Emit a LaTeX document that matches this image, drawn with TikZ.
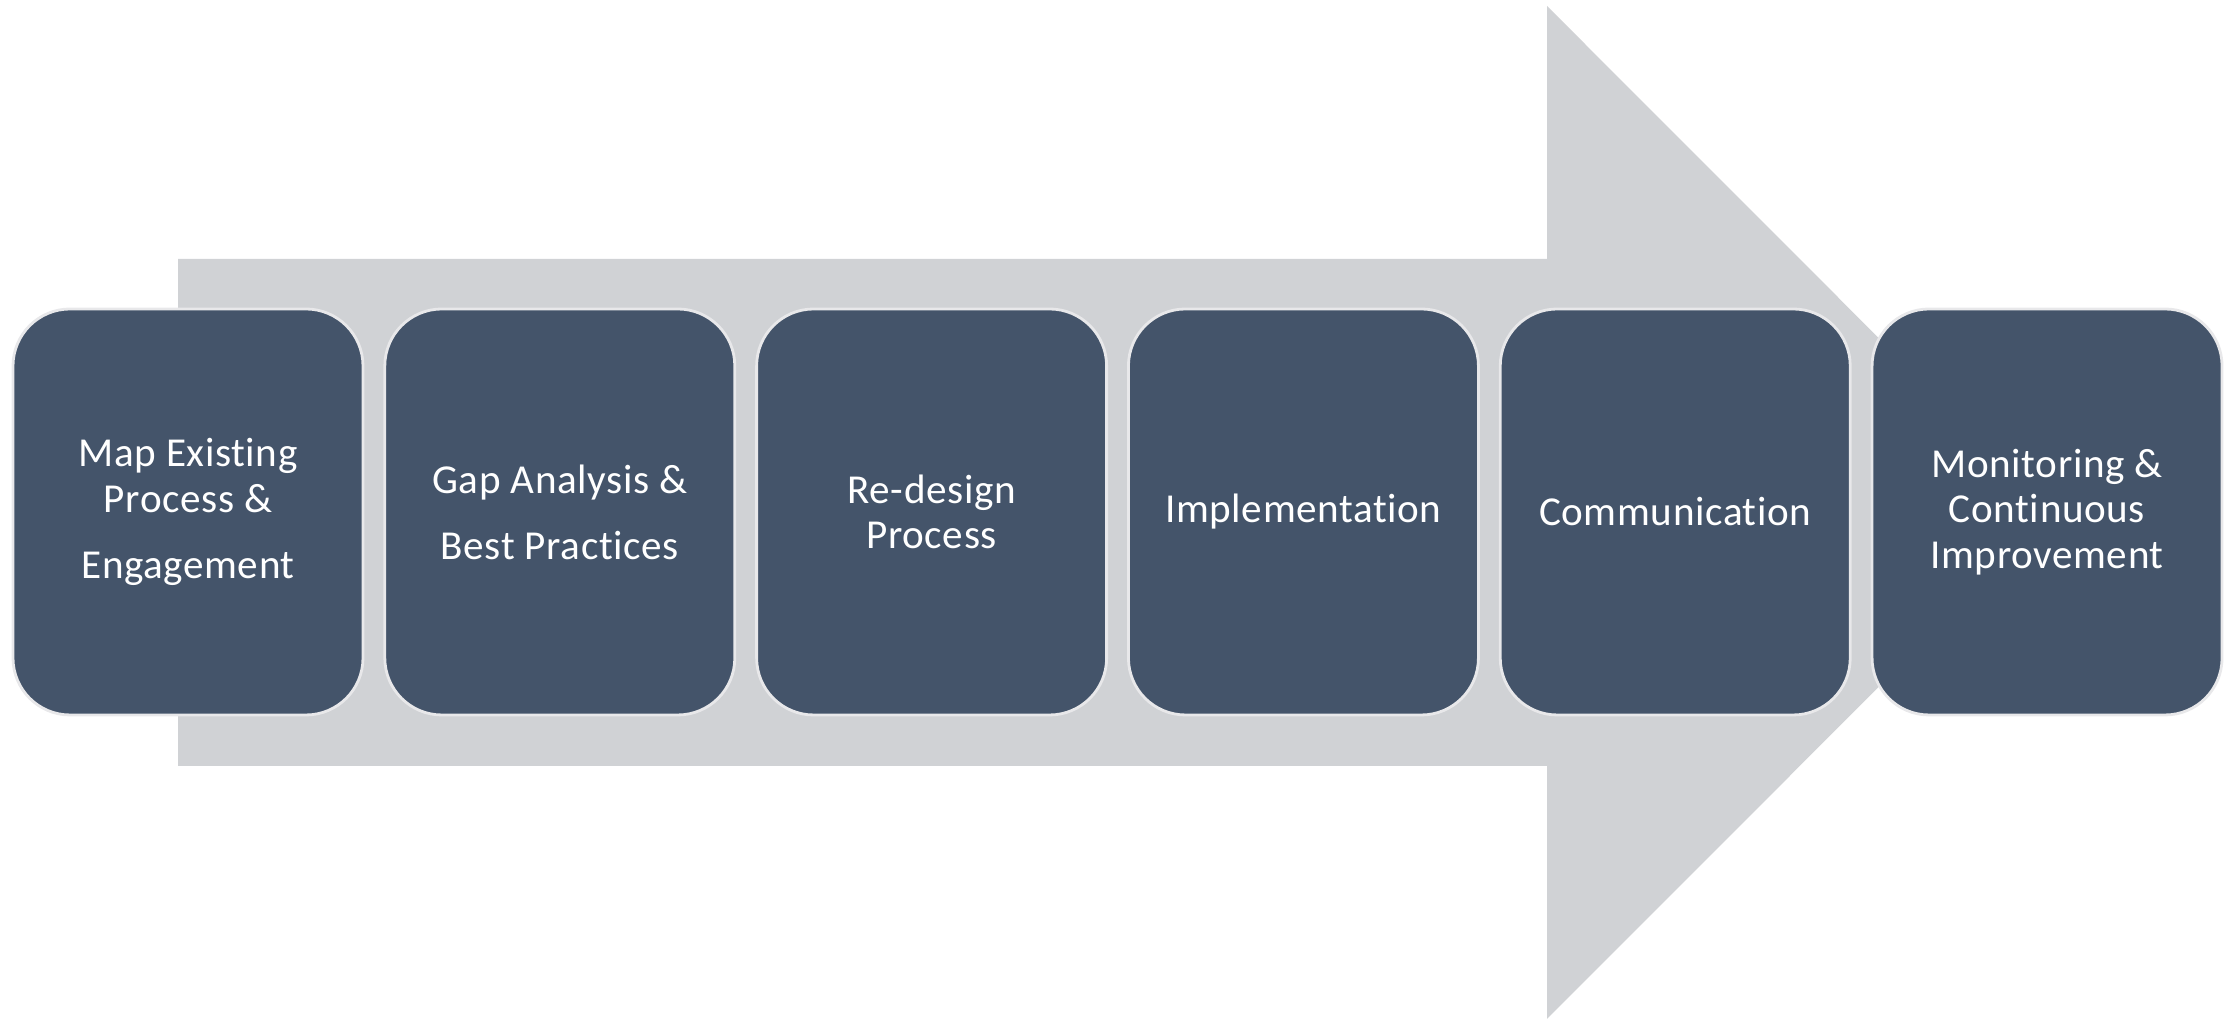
\documentclass[tikz,border=0pt]{standalone}
\usepackage{fontspec}
\setmainfont{Carlito}[Ligatures=NoCommon, LetterSpace=1.5]
\usetikzlibrary{positioning}
\definecolor{stagefill}{RGB}{68,84,106}
\definecolor{arrowgray}{RGB}{208,210,213}
\definecolor{stageline}{RGB}{232,232,234}

\begin{document}
\begin{tikzpicture}[
    stage/.style={draw=stageline, line width=0.8pt, fill=stagefill, rounded corners=0.57cm,
      minimum width=3.5cm, minimum height=4.06cm, text=white, align=center,
      font=\fontsize{11.7}{13}\selectfont, inner sep=0pt}
  ]
  \useasboundingbox (0,0) rectangle (22.33,10.23);
  % big arrow behind the stages
  \fill[arrowgray] (1.78,2.57) -- (1.78,7.64) -- (15.47,7.64) -- (15.47,10.17)
    -- (20.53,5.105) -- (15.47,0.04) -- (15.47,2.57) -- cycle;
  \node[stage] (map) at (1.88,5.11) {Map Existing\\Process \&\\[6pt]Engagement};
  \node[stage, right=0.19cm of map] (gap) {Gap Analysis \&\\[5.8pt]Best Practices};
  \node[stage, right=0.19cm of gap] (redesign) {Re-design\\Process};
  \node[stage, right=0.19cm of redesign] (impl) {Implementation};
  \node[stage, right=0.19cm of impl] (comm) {Communication};
  \node[stage, right=0.19cm of comm] (monitor) {Monitoring \&\\Continuous\\Improvement};
\end{tikzpicture}
\end{document}
